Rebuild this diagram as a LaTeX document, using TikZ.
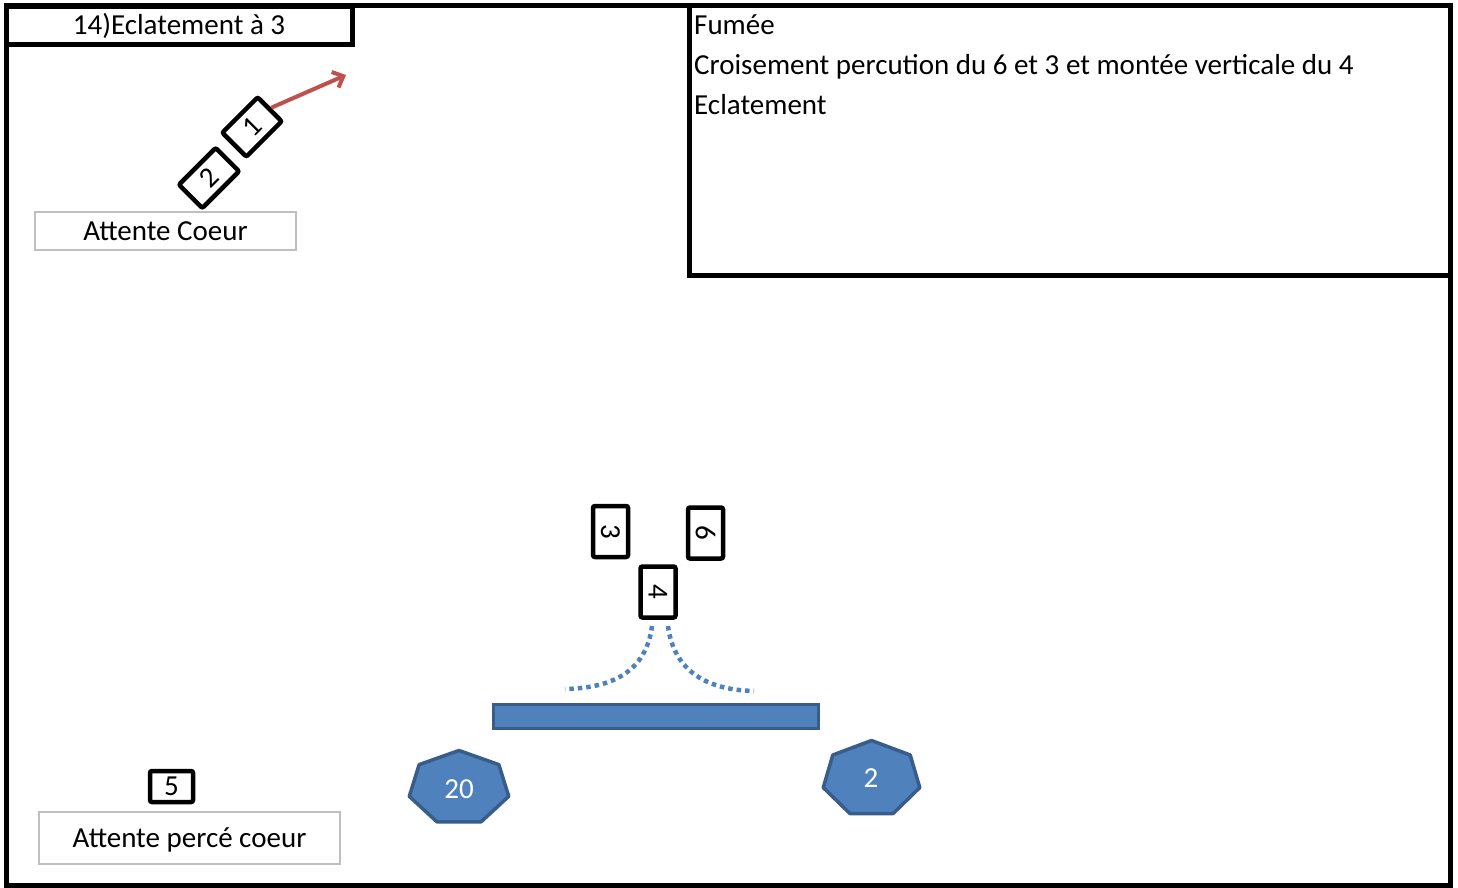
\documentclass[tikz,border=0pt]{standalone}
\usepackage{fontspec}
\setmainfont{Carlito}
\usetikzlibrary{arrows.meta}
\definecolor{accblue}{HTML}{4F81BD}
\definecolor{darkblue}{HTML}{385D8A}
\definecolor{accred}{HTML}{C0504D}
\definecolor{lblgray}{HTML}{BFBFBF}
\begin{document}
\begin{tikzpicture}[x=1pt,y=-1pt,
  txt/.style={font=\fontsize{29}{34}\selectfont},
  frame/.style={draw=black,line width=5pt},
  player/.style={draw=black,line width=4.5pt,rounded corners=2pt,fill=white,inner sep=0pt,
    minimum width=51pt,minimum height=35pt,txt},
  lbl/.style={draw=lblgray,line width=1.5pt,inner sep=0pt,txt,text height=19pt,text depth=0pt},
  hept/.style={draw=darkblue,fill=accblue,line width=3.5pt,line join=round},
  spray/.style={accblue,line width=4.5pt,dash pattern=on 4.5pt off 4pt},
  move/.style={accred,line width=4pt,-{Straight Barb[length=9pt,width=17pt]}}
]
\useasboundingbox (0,0) rectangle (1458,888);
\draw[frame] (6,6) rectangle (1450,885);

% title
\node[frame,inner sep=0pt,minimum width=346pt,minimum height=38.5pt,txt] (title) at (179,25.5) {14)Eclatement à 3};

% notes box
\draw[frame] (689,6) rectangle (1450,275.5);
\node[txt,inner sep=0pt,anchor=base west] (n1) at (694,35) {Fumée};
\node[txt,inner sep=0pt,anchor=base west] (n2) at (694,75) {Croisement percution du 6 et 3 et montée verticale du 4};
\node[txt,inner sep=0pt,anchor=base west] (n3) at (694,115) {Eclatement};

% waiting zones
\node[lbl,minimum width=261pt,minimum height=38pt] (wc) at (165.5,231) {Attente Coeur};
\node[lbl,minimum width=301pt,minimum height=52pt] (wpc) at (189.5,838) {Attente percé coeur};

% players
\node[player,rotate=45,minimum width=50pt,minimum height=34pt] (p1) at (252,127) {1};
\node[player,rotate=45,minimum width=52pt,minimum height=33pt] (p2) at (209,178) {2};
\node[player,rotate=-90] (p3) at (610.5,531.5) {3};
\node[player,rotate=-90] (p6) at (705.5,533) {6};
\node[player,rotate=-90] (p4) at (658,592) {4};
\node[player,minimum width=43pt,minimum height=31pt] (p5) at (171.5,786.5) {5};

% arrow of player 1
\coordinate (a1) at (346,75);
\draw[move] (p1.east) -- (a1);

% bar
\node[draw=darkblue,fill=accblue,line width=3pt,minimum width=325pt,minimum height=24pt,inner sep=0pt] (bar) at (655.5,716) {};

% spray curves
\coordinate (sl0) at (652,626);
\coordinate (sl1) at (565,689);
\coordinate (sr0) at (668,626);
\coordinate (sr1) at (754,691);
\draw[spray] (sl0) .. controls (646,672) and (612,688) .. (sl1);
\draw[spray] (sr0) .. controls (674,672) and (708,690) .. (sr1);

% heptagons
\begin{scope}[shift={(459,788)}]
\draw[hept] (90:51pt and 37.5pt) \foreach \k in {1,...,6}{ -- ({90+\k*360/7}:51pt and 37.5pt)} -- cycle;
\end{scope}
\node[txt,text=white,inner sep=0pt] (h20) at (459,789) {20};
\begin{scope}[shift={(871.5,779)}]
\draw[hept] (90:49.5pt and 38.5pt) \foreach \k in {1,...,6}{ -- ({90+\k*360/7}:49.5pt and 38.5pt)} -- cycle;
\end{scope}
\node[txt,text=white,inner sep=0pt] (h2) at (871,778) {2};
\end{tikzpicture}
\end{document}
